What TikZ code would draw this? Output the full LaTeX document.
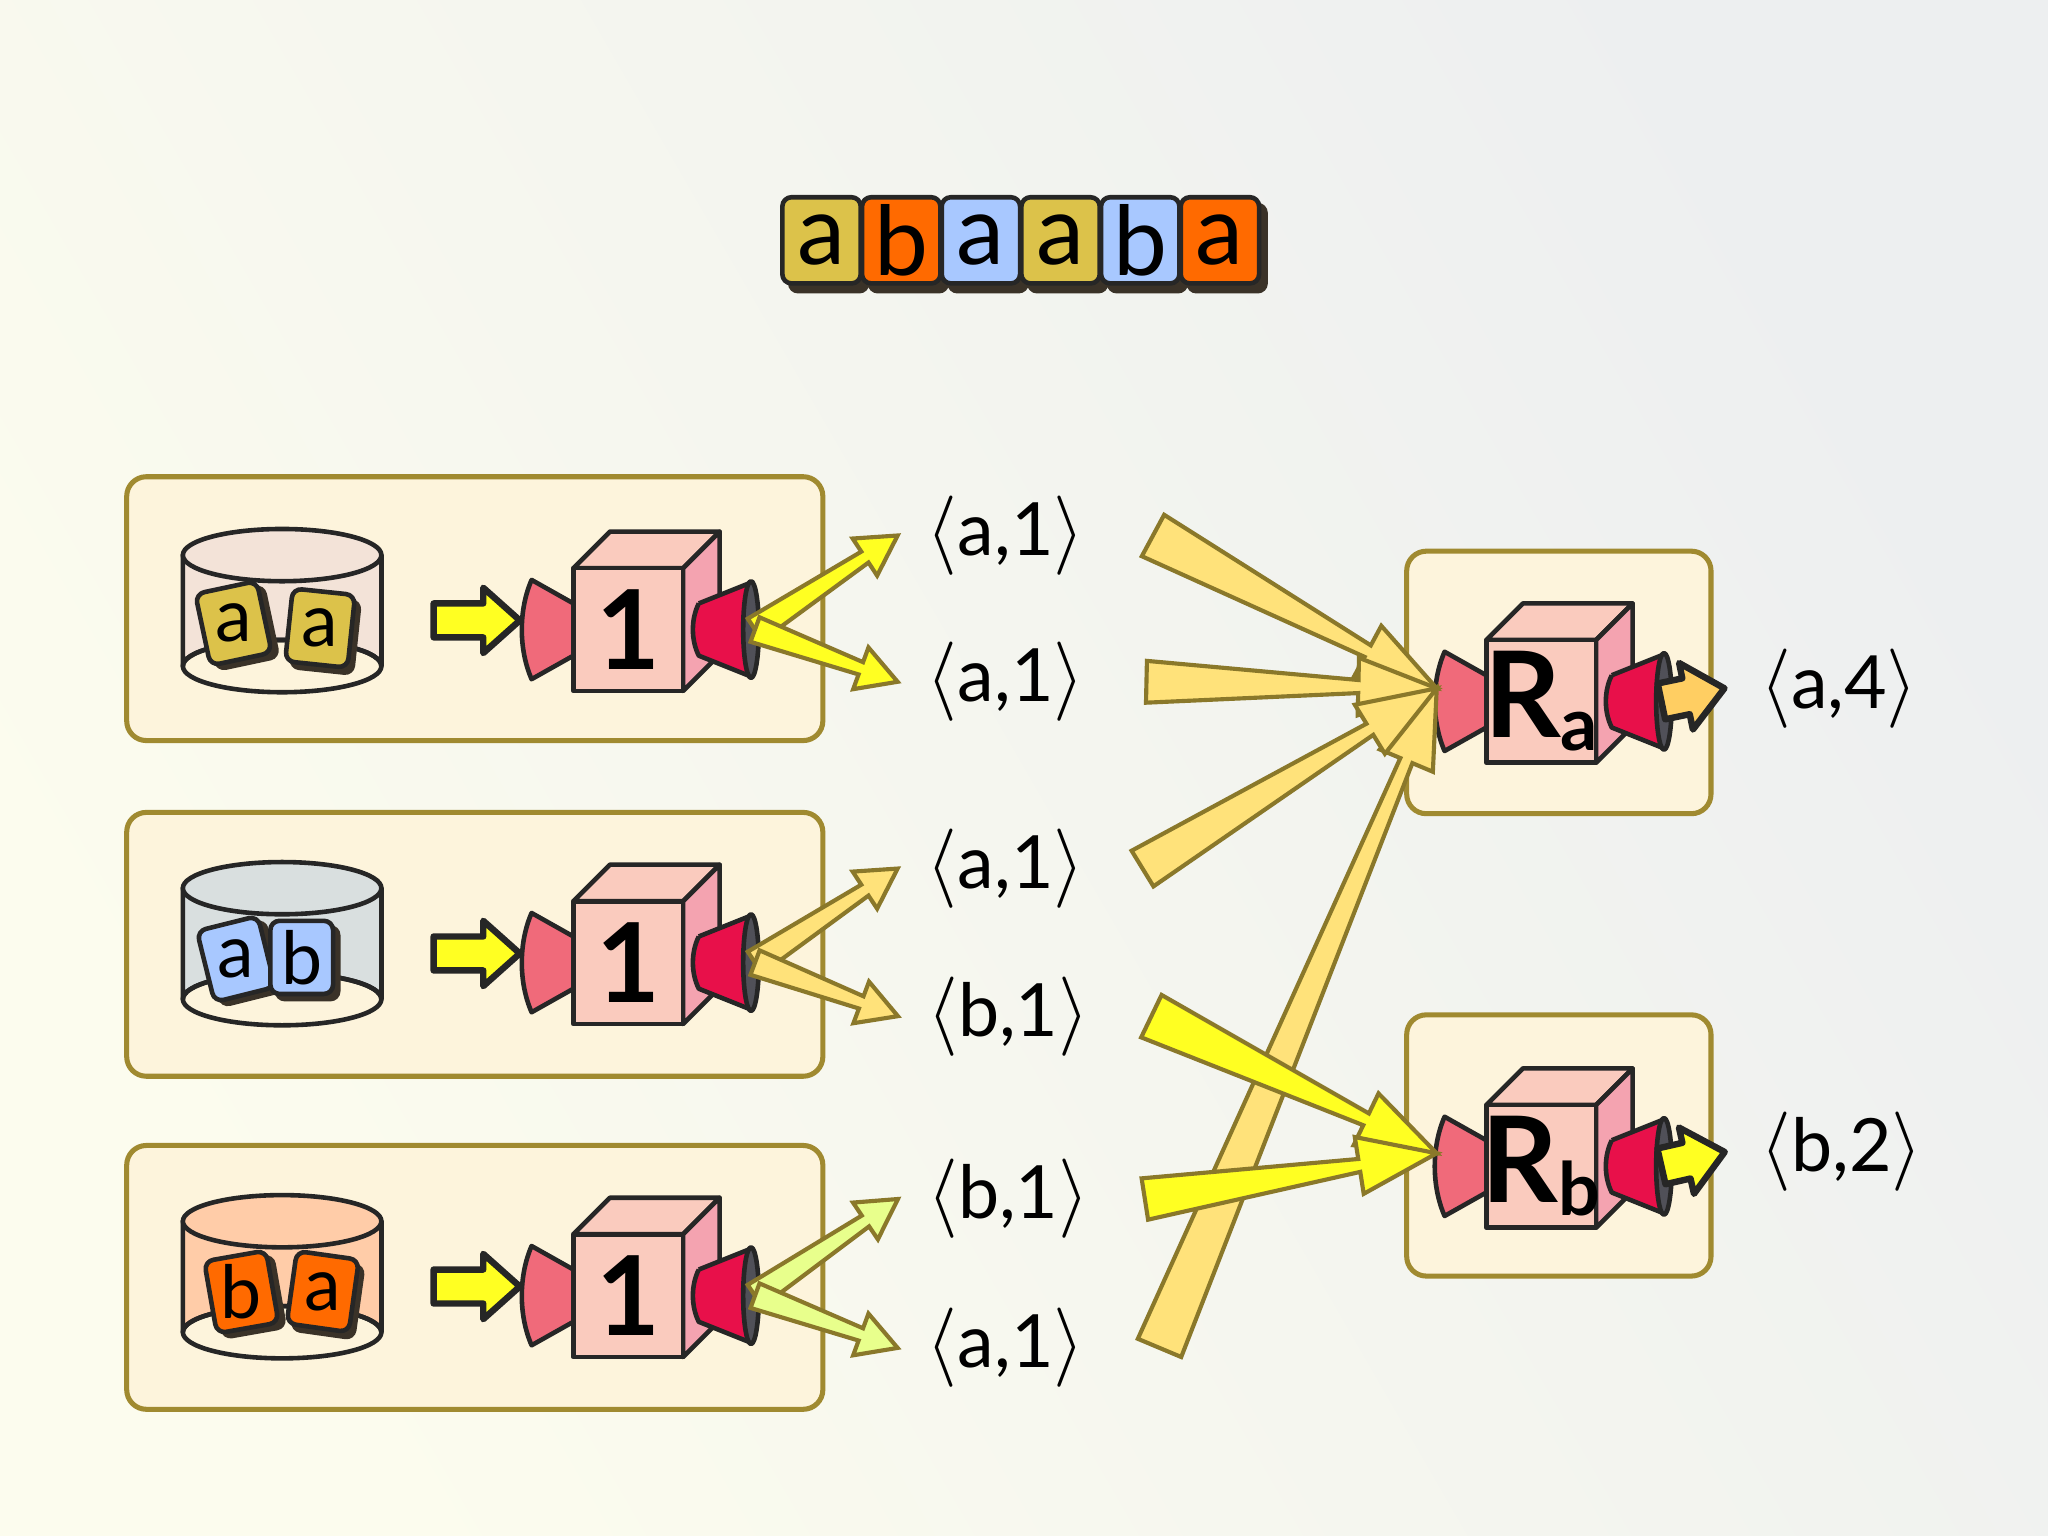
\documentclass[tikz,border=0pt]{standalone}
\usepackage{fontspec}
\setmainfont{Lato}
\usetikzlibrary{calc,positioning}
\definecolor{bgA}{HTML}{FCFCEE}
\definecolor{bgB}{HTML}{EDEFF0}
\definecolor{panelfill}{HTML}{FDF4DC}
\definecolor{panelline}{HTML}{A08A30}
\definecolor{tileY}{HTML}{DCC24A}
\definecolor{tileO}{HTML}{FF6A00}
\definecolor{tileB}{HTML}{A8C8FF}
\definecolor{tileshadow}{HTML}{3A3228}
\definecolor{cubeF}{HTML}{FACBBE}
\definecolor{cubeS}{HTML}{F4A3B0}
\definecolor{funL}{HTML}{F06A7A}
\definecolor{funR}{HTML}{E8104A}
\definecolor{capC}{HTML}{505058}
\definecolor{gold}{HTML}{FFE27A}
\definecolor{goldline}{HTML}{8A782A}
\definecolor{lime}{HTML}{E8FF8C}
\definecolor{yel}{HTML}{FFFF22}
\definecolor{drumA}{HTML}{F3E3D8}
\definecolor{drumB}{HTML}{D9DFDF}
\definecolor{drumC}{HTML}{FFCCA8}
\tikzset{
  panel/.style={draw=panelline, fill=panelfill, line width=1.1pt, rounded corners=0.15cm},
  part/.style={draw=black!85, line width=1pt, line join=round},
  flowline/.style={draw=goldline, line width=0.9pt, line join=miter},
  tag/.style={font=\fontsize{16}{16}\selectfont},
}
% tapered block arrow: fill, from, to, tail, neck, head, head length
\newcommand\flow[8][flowline]{%
  \coordinate (fh) at ($#4!#8!#3$);
  \filldraw[#1, fill=#2] ($#3!#5!90:#4$) -- ($(fh)!#6!90:#4$) -- ($(fh)!#7!90:#4$)
    -- #4 -- ($(fh)!#7!-90:#4$) -- ($(fh)!#6!-90:#4$) -- ($#3!#5!-90:#4$) -- cycle;}
% small lettered tile
\newcommand\tile[5]{%
  \begin{scope}[shift={#1}, rotate=#2]
    \filldraw[tileshadow, rounded corners=2pt] (-21,-25) rectangle (28,32);
    \filldraw[part, fill=#3, rounded corners=2pt] (-25,-29) rectangle (23,27);
    \node[font=\fontsize{#5}{#5}\selectfont] at (-1,-1) {#4};
  \end{scope}}
% mapper / reducer machine
\newcommand\machine[3]{%
  \begin{scope}[shift={#1}]
    \filldraw[part, fill=funL] (-42,-20) -- (-74,-38) .. controls (-84,-15) and (-84,15) .. (-74,38) -- (-42,20) -- cycle;
    \filldraw[part, fill=cubeF] (-42,-47) -- (-14,-75) -- (70,-75) -- (42,-47) -- cycle;
    \filldraw[part, fill=cubeS] (42,-47) -- (70,-75) -- (70,19) -- (42,47) -- cycle;
    \filldraw[part, fill=cubeF] (-42,-47) rectangle (42,47);
    \filldraw[part, fill=funR] (54,-20) -- (94,-36) -- (94,36) -- (54,20) .. controls (48,8) and (48,-8) .. (54,-20);
    \filldraw[part, fill=capC] (94,0) ellipse [x radius=6, y radius=37];
    \node[inner sep=0pt] (#2) at (0,0) {#3};
  \end{scope}}
% storage drum
\newcommand\drum[2]{%
  \filldraw[part, fill=#2] ($#1+(-76,0)$) -- ($#1+(-76,85)$) arc[start angle=180, end angle=360, x radius=76, y radius=20] -- ($#1+(76,0)$) -- cycle;
  \draw[part] ($#1+(0,85)$) ellipse [x radius=76, y radius=20];}
\newcommand\drumtop[2]{%
  \draw[part] ($#1+(-76,0)$) -- ($#1+(-76,85)$) ($#1+(76,0)$) -- ($#1+(76,85)$);
  \filldraw[part, fill=#2] #1 ellipse [x radius=76, y radius=20];}

\begin{document}
\begin{tikzpicture}[x=0.01cm, y=-0.01cm]
  \shade[left color=bgA, right color=bgB, shading angle=120] (0,0) rectangle (1568,1176);
  \useasboundingbox (0,0) rectangle (1568,1176);

  % input string
  \foreach \c/\l [count=\i] in {tileY/a, tileO/b, tileB/a, tileY/a, tileB/b, tileO/a} {
    \filldraw[tileshadow, rounded corners=2pt] ({538+61*\i+5},156) rectangle ({538+61*\i+66},224);
    \filldraw[part, fill=\c, rounded corners=2pt] ({538+61*\i},151) rectangle ({538+61*\i+60},217);
    \node[font=\fontsize{21}{21}\selectfont] (s\i) at ({568+61*\i},184) {\l};
  }

  % map panels
  \foreach \y in {365, 622, 877} {
    \draw[panel] (97,\y) rectangle (630,\y+202);
  }
  \drum{(216,425)}{drumA}
  \tile{(180,478)}{12}{tileY}{a}{16}
  \tile{(246,482)}{-6}{tileY}{a}{16}
  \drumtop{(216,425)}{drumA}
  \drum{(216,680)}{drumB}
  \tile{(182,735)}{14}{tileB}{a}{16}
  \tile{(232,734)}{0}{tileB}{b}{16}
  \drumtop{(216,680)}{drumB}
  \drum{(216,935)}{drumC}
  \tile{(186,990)}{10}{tileO}{b}{16}
  \tile{(248,990)}{-8}{tileO}{a}{16}
  \drumtop{(216,935)}{drumC}

  \foreach \y/\n in {475/1, 730/2, 985/3} {
    \coordinate (in\n) at (332,\y);
    \coordinate (mp\n) at (398,\y);
    \flow[part, line width=1.4pt]{yel}{(in\n)}{(mp\n)}{0.13cm}{0.13cm}{0.25cm}{0.28cm}
    \machine{(481,\y+7)}{m\n}{\fontsize{24}{24}\selectfont\bfseries 1}
  }

  % intermediate pairs
  \node[tag] (p1) at (770,410) {$\langle$a,1$\rangle$};
  \node[tag] (p2) at (770,522) {$\langle$a,1$\rangle$};
  \node[tag] (p3) at (770,665) {$\langle$a,1$\rangle$};
  \node[tag] (p4) at (772,778) {$\langle$b,1$\rangle$};
  \node[tag] (p5) at (772,918) {$\langle$b,1$\rangle$};
  \node[tag] (p6) at (770,1032) {$\langle$a,1$\rangle$};

  \foreach \m/\a/\b/\c in {1/p1/p2/yel, 2/p3/p4/gold, 3/p5/p6/lime} {
    \coordinate (o\m) at ([xshift=0.97cm]m\m);
    \flow{\c}{(o\m)}{([xshift=-0.1cm]\a.west)}{0.1cm}{0.05cm}{0.17cm}{0.3cm}
    \flow{\c}{(o\m)}{([xshift=-0.1cm]\b.west)}{0.1cm}{0.05cm}{0.17cm}{0.3cm}
  }

  % reduce panels
  \draw[panel] (1077,422) rectangle (1310,623);
  \draw[panel] (1077,777) rectangle (1310,977);
  \machine{(1180,537)}{ra}{\fontsize{26}{26}\selectfont\bfseries R\raisebox{-0.1cm}{\fontsize{16}{16}\selectfont a}}
  \machine{(1180,893)}{rb}{\fontsize{26}{26}\selectfont\bfseries R\raisebox{-0.1cm}{\fontsize{16}{16}\selectfont b}}
  \coordinate (rain) at (1100,527);
  \coordinate (rbin) at (1100,883);

  % shuffle
  \flow{gold}{([xshift=0.45cm]p6.east)}{(rain)}{0.18cm}{0.05cm}{0.22cm}{0.6cm}
  \flow{gold}{([xshift=0.4cm]p1.east)}{(rain)}{0.18cm}{0.05cm}{0.22cm}{0.6cm}
  \flow{gold}{([xshift=0.35cm]p2.east)}{(rain)}{0.16cm}{0.05cm}{0.22cm}{0.6cm}
  \flow{gold}{([xshift=0.32cm]p3.east)}{(rain)}{0.16cm}{0.05cm}{0.22cm}{0.6cm}
  \flow{yel}{([xshift=0.35cm]p4.east)}{(rbin)}{0.18cm}{0.05cm}{0.22cm}{0.6cm}
  \flow{yel}{([xshift=0.3cm]p5.east)}{(rbin)}{0.16cm}{0.05cm}{0.22cm}{0.6cm}

  % outputs
  \node[tag] (qa) at (1408,527) {$\langle$a,4$\rangle$};
  \node[tag] (qb) at (1410,882) {$\langle$b,2$\rangle$};
  \flow[part, line width=1.4pt]{gold!80!orange}{([xshift=0.92cm]ra)}{([xshift=-0.15cm]qa.west)}{0.14cm}{0.14cm}{0.26cm}{0.3cm}
  \flow[part, line width=1.4pt]{yel}{([xshift=0.92cm]rb)}{([xshift=-0.15cm]qb.west)}{0.14cm}{0.14cm}{0.26cm}{0.3cm}
\end{tikzpicture}
\end{document}
